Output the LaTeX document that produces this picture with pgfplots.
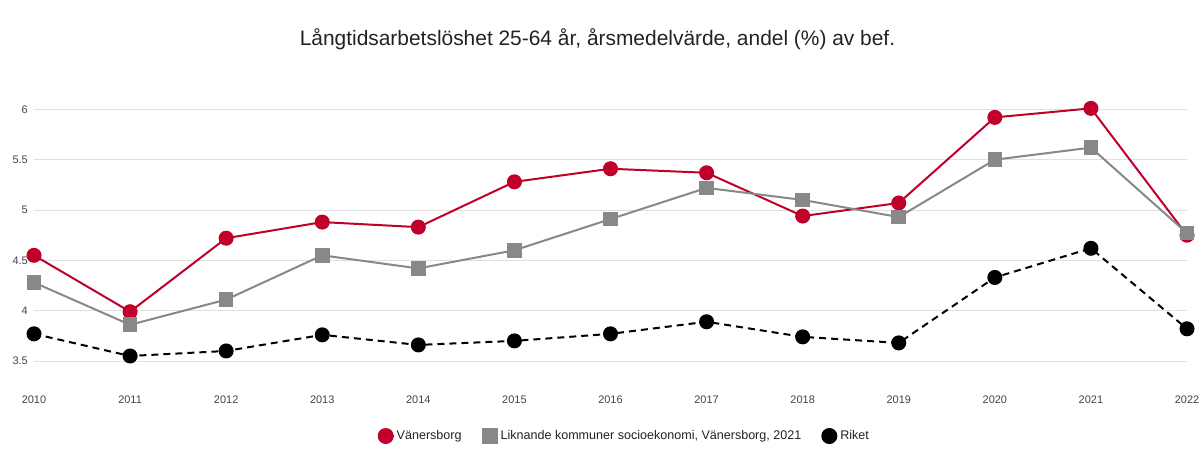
\documentclass[border=0pt]{standalone}
\usepackage{pgfplots}
\pgfplotsset{compat=1.18}
\usepackage{fontspec}
\setmainfont{Liberation Sans}
\definecolor{vred}{RGB}{192,0,43}
\definecolor{lgrey}{RGB}{136,136,136}
\definecolor{gridc}{RGB}{224,224,224}
\definecolor{tickc}{RGB}{68,68,68}
\definecolor{titlec}{RGB}{34,34,34}
\begin{document}
\begin{tikzpicture}[x=1bp,y=1bp]
\useasboundingbox (0,0) rectangle (1199,459);
\node[anchor=base, font=\fontsize{21}{25}\selectfont, text=titlec, inner sep=0] at (597.5,413) {Långtidsarbetslöshet 25-64 år, årsmedelvärde, andel (\%) av bef.};
\begin{axis}[
  at={(34bp,72.8bp)}, anchor=south west, scale only axis,
  width=1153bp, height=302bp,
  xmin=2010, xmax=2022, ymin=3.25, ymax=6.25,
  clip=false,
  axis line style={draw=none},
  major tick length=0pt,
  xtick={2010,2011,...,2022},
  ytick={3.5,4,4.5,5,5.5,6},
  ymajorgrids,
  grid style={gridc, line width=0.8bp},
  /pgf/number format/assume math mode=true,
  xticklabel style={/pgf/number format/1000 sep={}, anchor=base, yshift=-17.8bp, font=\fontsize{11}{13}\selectfont, text=tickc},
  yticklabel style={inner xsep=0pt, xshift=-6bp, font=\fontsize{11}{13}\selectfont, text=tickc},
  legend style={at={(0.512,-0.165)}, anchor=center, draw=none, fill=none,
    legend columns=3, font=\fontsize{12.6}{15}\selectfont, text=titlec,
    /tikz/every even column/.append style={column sep=18bp}},
  legend cell align=left,
  legend image code/.code={\path (0bp,0bp) -- (15bp,0bp); \draw[#1, mark size=7bp] plot coordinates {(7bp,0bp)};},
]
\addplot[vred, line width=2bp, mark=*, mark size=6.5bp, mark options={solid, fill=vred, draw=vred}] coordinates {
(2010,4.55) (2011,3.99) (2012,4.72) (2013,4.88) (2014,4.83) (2015,5.28) (2016,5.41)
(2017,5.37) (2018,4.94) (2019,5.07) (2020,5.92) (2021,6.01) (2022,4.75)};
\addlegendentry{Vänersborg}
\addplot[lgrey, line width=2bp, mark=square*, mark size=6.3bp, mark options={solid, fill=lgrey, draw=lgrey}] coordinates {
(2010,4.28) (2011,3.86) (2012,4.11) (2013,4.55) (2014,4.42) (2015,4.60) (2016,4.91)
(2017,5.22) (2018,5.10) (2019,4.93) (2020,5.50) (2021,5.62) (2022,4.77)};
\addlegendentry{Liknande kommuner socioekonomi, Vänersborg, 2021}
\addplot[black, line width=2bp, dash pattern=on 7bp off 5bp, mark=*, mark size=6.5bp, mark options={solid, fill=black, draw=black}] coordinates {
(2010,3.77) (2011,3.55) (2012,3.60) (2013,3.76) (2014,3.66) (2015,3.70) (2016,3.77)
(2017,3.89) (2018,3.74) (2019,3.68) (2020,4.33) (2021,4.62) (2022,3.82)};
\addlegendentry{Riket}
\end{axis}
\end{tikzpicture}
\end{document}
